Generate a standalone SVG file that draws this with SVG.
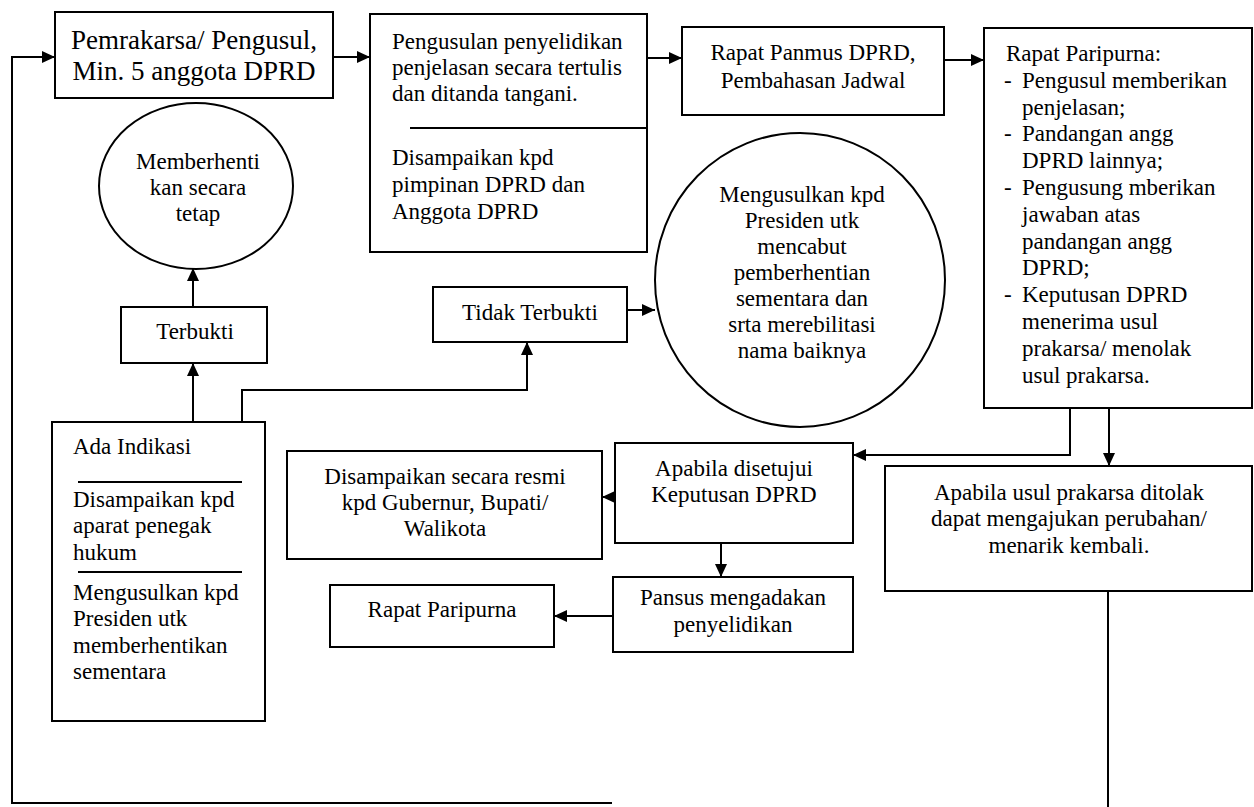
<svg xmlns="http://www.w3.org/2000/svg" width="1254" height="807" viewBox="0 0 1254 807">
<defs>
<style>
.box{fill:#fff;stroke:#000;stroke-width:2}
.ln{fill:none;stroke:#000;stroke-width:2}
.c{stroke:#000;stroke-width:2;fill:none}
text{font-family:"Liberation Serif","Times New Roman",serif;font-size:23px;fill:#000}
.m{text-anchor:middle}
.big{font-size:27px}
</style>
<marker id="ah" markerUnits="userSpaceOnUse" markerWidth="13" markerHeight="12" refX="13" refY="6" orient="auto">
<path d="M0,0 L13,6 L0,12 z" fill="#000"/>
</marker>
</defs>
<rect width="1254" height="807" fill="#fff"/>

<g id="connectors">
<path class="c" d="M1108,591 V807"/>
<path class="c" d="M612,803 H12 V57 H55" marker-end="url(#ah)"/>
<path class="c" d="M333,57 H370" marker-end="url(#ah)"/>
<path class="c" d="M647,58 H682" marker-end="url(#ah)"/>
<path class="c" d="M944,60 H984" marker-end="url(#ah)"/>
<path class="c" d="M1070,408 V455 H853" marker-end="url(#ah)"/>
<path class="c" d="M1109,408 V466" marker-end="url(#ah)"/>
<path class="c" d="M614,497 H602" marker-end="url(#ah)"/>
<path class="c" d="M721,543 V577" marker-end="url(#ah)"/>
<path class="c" d="M613,616 H554" marker-end="url(#ah)"/>
<path class="c" d="M193,422 V363" marker-end="url(#ah)"/>
<path class="c" d="M193,307 V268" marker-end="url(#ah)"/>
<path class="c" d="M242,422 V390 H527 V342" marker-end="url(#ah)"/>
<path class="c" d="M627,310 H655" marker-end="url(#ah)"/>
</g>

<g id="pemrakarsa">
<rect class="box" x="55" y="12" width="278" height="86"/>
<text class="m big" x="194" y="49">Pemrakarsa/ Pengusul,</text>
<text class="m big" x="194" y="80">Min. 5 anggota DPRD</text>
</g>

<g id="pengusulan">
<rect class="box" x="370" y="14" width="277" height="238"/>
<line class="ln" x1="410" y1="128" x2="647" y2="128"/>
<text x="392" y="49">Pengusulan penyelidikan</text>
<text x="392" y="75">penjelasan secara tertulis</text>
<text x="392" y="101">dan ditanda tangani.</text>
<text x="392" y="165">Disampaikan kpd</text>
<text x="392" y="192">pimpinan DPRD dan</text>
<text x="392" y="219">Anggota DPRD</text>
</g>

<g id="panmus">
<rect class="box" x="682" y="27" width="262" height="88"/>
<text class="m" x="813" y="60">Rapat Panmus DPRD,</text>
<text class="m" x="813" y="88">Pembahasan Jadwal</text>
</g>

<g id="paripurna1">
<rect class="box" x="984" y="28" width="268" height="380"/>
<text x="1006" y="61">Rapat Paripurna:</text>
<text x="1004" y="88">-</text><text x="1022" y="88">Pengusul memberikan</text>
<text x="1022" y="115">penjelasan;</text>
<text x="1004" y="141">-</text><text x="1022" y="141">Pandangan angg</text>
<text x="1022" y="168">DPRD lainnya;</text>
<text x="1004" y="195">-</text><text x="1022" y="195">Pengusung mberikan</text>
<text x="1022" y="222">jawaban atas</text>
<text x="1022" y="249">pandangan angg</text>
<text x="1022" y="275">DPRD;</text>
<text x="1004" y="302">-</text><text x="1022" y="302">Keputusan DPRD</text>
<text x="1022" y="329">menerima usul</text>
<text x="1022" y="356">prakarsa/ menolak</text>
<text x="1022" y="383">usul prakarsa.</text>
</g>

<g id="memberhenti">
<ellipse class="box" cx="196" cy="186" rx="97" ry="83"/>
<text class="m" x="198" y="169">Memberhenti</text>
<text class="m" x="198" y="195">kan secara</text>
<text class="m" x="198" y="221">tetap</text>
</g>

<g id="mengusulkan-cabut">
<ellipse class="box" cx="800" cy="280" rx="145" ry="147"/>
<text class="m" x="802" y="202">Mengusulkan kpd</text>
<text class="m" x="802" y="228">Presiden utk</text>
<text class="m" x="802" y="254">mencabut</text>
<text class="m" x="802" y="280">pemberhentian</text>
<text class="m" x="802" y="306">sementara dan</text>
<text class="m" x="802" y="332">srta merebilitasi</text>
<text class="m" x="802" y="358">nama baiknya</text>
</g>

<g id="terbukti">
<rect class="box" x="121" y="307" width="146" height="56"/>
<text class="m" x="195" y="339">Terbukti</text>
</g>

<g id="tidak-terbukti">
<rect class="box" x="433" y="287" width="194" height="55"/>
<text class="m" x="530" y="320">Tidak Terbukti</text>
</g>

<g id="ada-indikasi">
<rect class="box" x="52" y="422" width="213" height="299"/>
<line class="ln" x1="78" y1="482" x2="242" y2="482"/>
<line class="ln" x1="78" y1="572" x2="242" y2="572"/>
<text x="73" y="454">Ada Indikasi</text>
<text x="73" y="507">Disampaikan kpd</text>
<text x="73" y="533">aparat penegak</text>
<text x="73" y="560">hukum</text>
<text x="73" y="600">Mengusulkan kpd</text>
<text x="73" y="626">Presiden utk</text>
<text x="73" y="653">memberhentikan</text>
<text x="73" y="679">sementara</text>
</g>

<g id="disampaikan-resmi">
<rect class="box" x="287" y="451" width="315" height="108"/>
<text class="m" x="445" y="484">Disampaikan secara resmi</text>
<text class="m" x="445" y="510">kpd Gubernur, Bupati/</text>
<text class="m" x="445" y="536">Walikota</text>
</g>

<g id="disetujui">
<rect class="box" x="615" y="443" width="238" height="100"/>
<text class="m" x="734" y="476">Apabila disetujui</text>
<text class="m" x="734" y="502">Keputusan DPRD</text>
</g>

<g id="pansus">
<rect class="box" x="613" y="577" width="240" height="75"/>
<text class="m" x="733" y="605">Pansus mengadakan</text>
<text class="m" x="733" y="632">penyelidikan</text>
</g>

<g id="paripurna2">
<rect class="box" x="330" y="585" width="224" height="62"/>
<text class="m" x="442" y="617">Rapat Paripurna</text>
</g>

<g id="ditolak">
<rect class="box" x="885" y="466" width="367" height="125"/>
<text class="m" x="1069" y="500">Apabila usul prakarsa ditolak</text>
<text class="m" x="1069" y="526">dapat mengajukan perubahan/</text>
<text class="m" x="1069" y="553">menarik kembali.</text>
</g>
</svg>
